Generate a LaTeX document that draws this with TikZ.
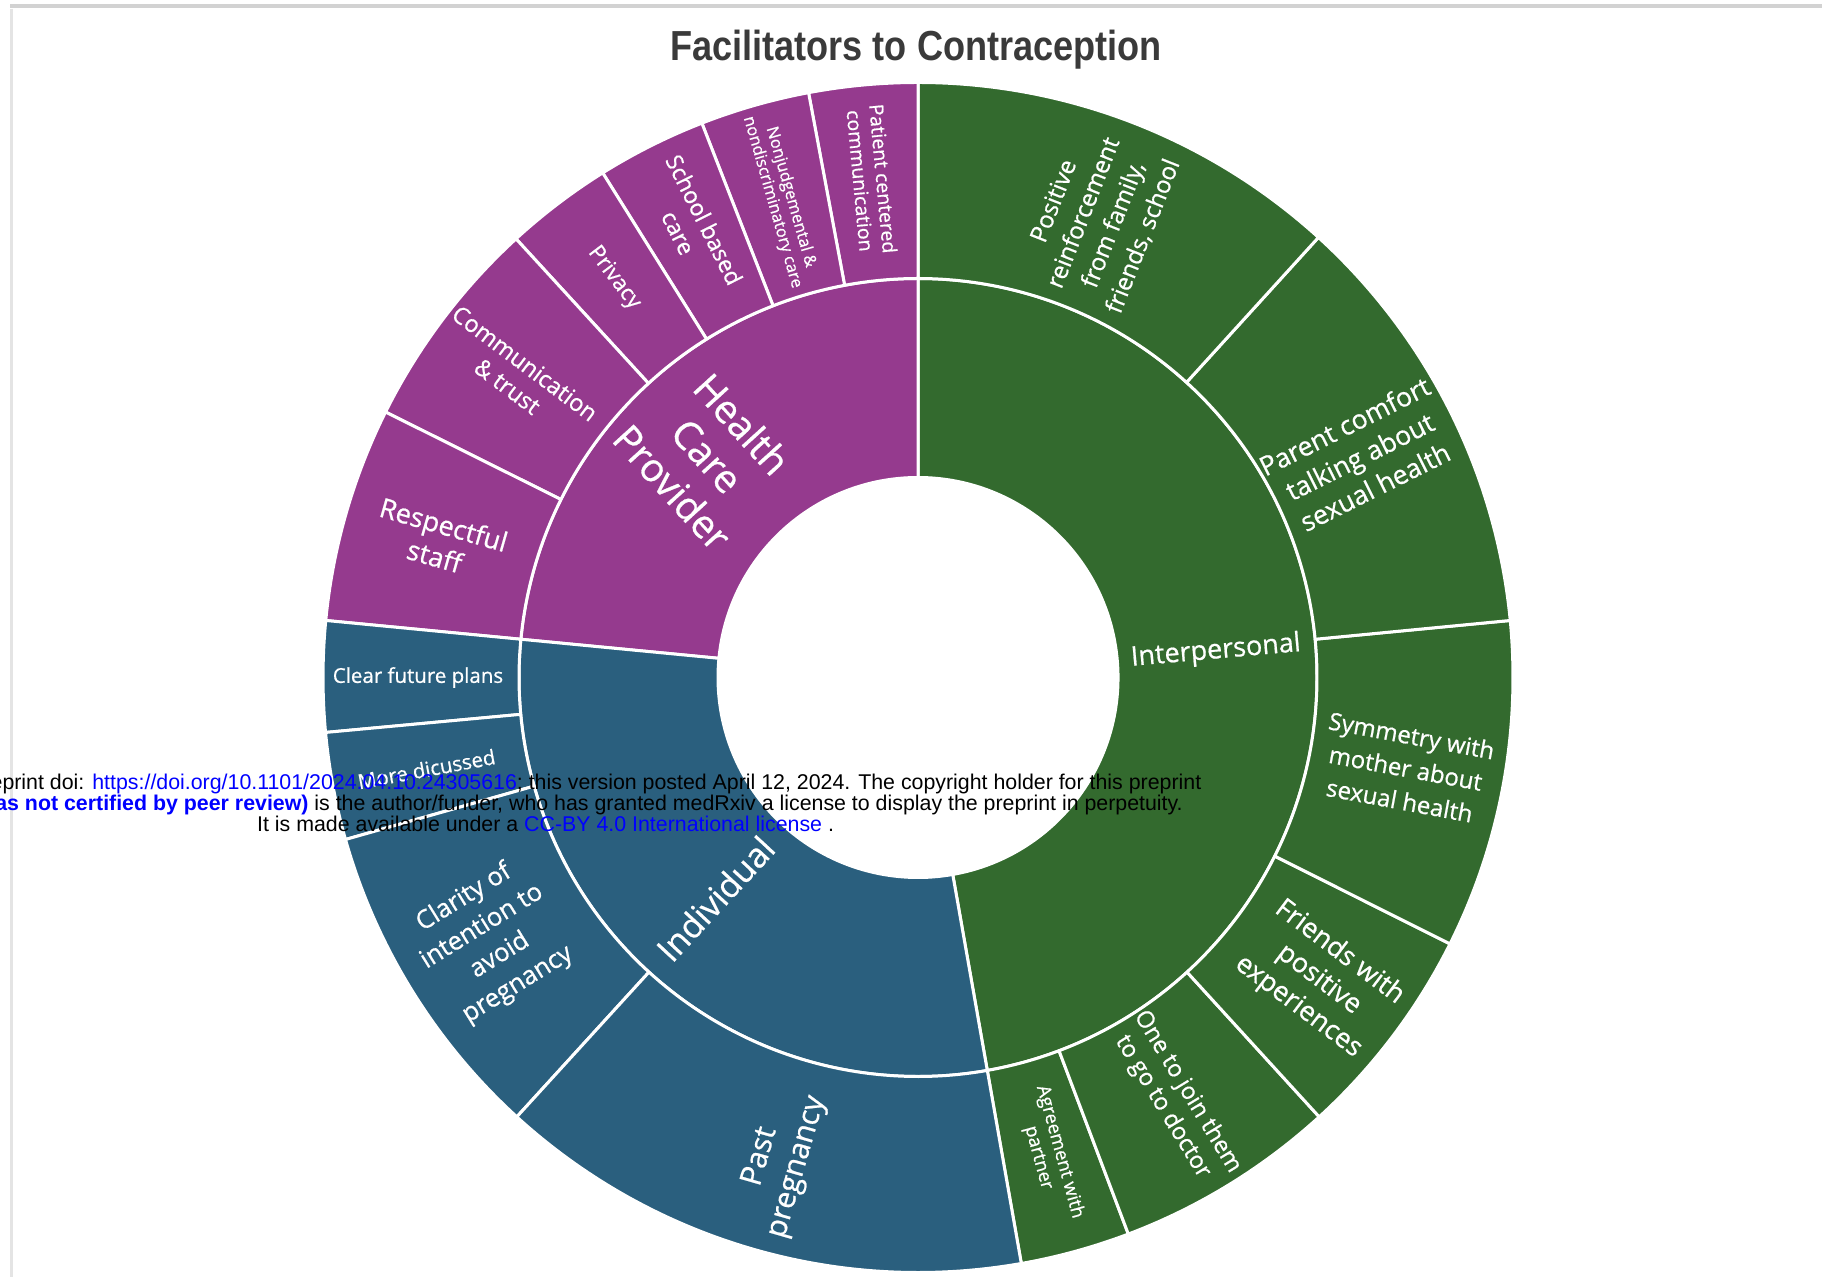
\documentclass[tikz,border=0pt]{standalone}
\usepackage{fontspec}
\setmainfont{Open Sans}[FakeBold=0.7]
\newfontfamily\arialf{Liberation Sans}
\usepackage{graphicx}
\definecolor{hcp}{HTML}{953A8E}
\definecolor{ipc}{HTML}{336A2E}
\definecolor{ind}{HTML}{2A5F7E}
\definecolor{ttl}{HTML}{3A3A3A}
\definecolor{lnk}{HTML}{0000FF}
\definecolor{framegray}{HTML}{D2D2D2}
\newcommand\fs[2]{\fontsize{#1}{#2}\selectfont}
\newcommand\seg[5]{\filldraw[fill=#5,draw=white,line width=3pt,line join=round]
  (#1:#3pt) arc[start angle=#1,end angle=#2,radius=#3pt] -- (#2:#4pt)
  arc[start angle=#2,end angle=#1,radius=#4pt] -- cycle;}
\tikzset{lab/.style={text=white,align=center,inner sep=0pt}}
\begin{document}
\begin{tikzpicture}[x=1pt,y=1pt]
\useasboundingbox (0,0) rectangle (1822,1277);
\fill[white] (0,0) rectangle (1822,1277);
\clip (0,0) rectangle (1822,1277);
% frame lines
\draw[framegray,line width=4pt] (10,1271) -- (1822,1271);
\draw[framegray!60,line width=3pt] (11,1268) -- (11,0);
% title
\node[anchor=base,inner sep=0pt] (title) at (916,1216.6)
  {\arialf\bfseries\color{ttl}\scalebox{0.86}[1]{\fs{42}{46}Facilitators to Contraception}};
\begin{scope}[shift={(918,599.5)}]
% inner ring
\seg{-80}{90}{200}{399}{ipc}
\seg{90}{174.5}{200}{399}{hcp}
\seg{174.5}{280}{200}{399}{ind}
% outer ring: interpersonal
\seg{-80}{-69.3}{399}{595}{ipc}
\seg{-69.3}{-47.6}{399}{595}{ipc}
\seg{-47.6}{-26.6}{399}{595}{ipc}
\seg{-26.6}{5.5}{399}{595}{ipc}
\seg{5.5}{47.7}{399}{595}{ipc}
\seg{47.7}{90}{399}{595}{ipc}
% outer ring: health care provider
\seg{90}{100.6}{399}{595}{hcp}
\seg{100.6}{111.3}{399}{595}{hcp}
\seg{111.3}{122}{399}{595}{hcp}
\seg{122}{132.5}{399}{595}{hcp}
\seg{132.5}{153.5}{399}{595}{hcp}
\seg{153.5}{174.5}{399}{595}{hcp}
% outer ring: individual
\seg{174.5}{185.3}{399}{595}{ind}
\seg{185.3}{195.8}{399}{595}{ind}
\seg{195.8}{227.6}{399}{595}{ind}
\seg{227.6}{280}{399}{595}{ind}
% inner labels
\node[lab,rotate=5,font=\fs{27}{32}] (interp) at (5:299) {Interpersonal};
\node[lab,rotate=-47.75,font=\fs{39}{47}] (hcpl) at (133.5:306) {Health\\Care\\Provider};
\node[lab,rotate=47.25,font=\fs{34}{40}] (indl) at (227.5:300) {Individual};
% outer labels
\node[lab,rotate=-74.65,font=\fs{18.5}{22}] (agree) at (-74.65:495) {Agreement with\\partner};
\node[lab,rotate=-58.65,font=\fs{23.5}{29}] (join) at (-58.65:494) {One to join them\\to go to doctor};
\node[lab,rotate=-37,font=\fs{27}{34}] (friends) at (-37:502) {Friends with\\positive\\experiences};
\node[lab,rotate=-10.5,font=\fs{24}{33}] (symm) at (-10.5:496) {Symmetry with\\mother about\\sexual health};
\node[lab,rotate=26.6,font=\fs{26.5}{34}] (parent) at (26.6:494) {Parent comfort\\talking about\\sexual health};
\node[lab,rotate=68.5,font=\fs{24}{32}] (posre) at (68.5:493) {Positive\\reinforcement\\from family,\\friends, school};
\node[lab,rotate=-84.7,font=\fs{19.5}{23}] (patient) at (95.3:500) {Patient centered\\communication};
\node[lab,rotate=-74.05,font=\fs{16.5}{19}] (nonjud) at (105.95:497) {Nonjudgemental \&\\nondiscriminatory care};
\node[lab,rotate=-63.35,font=\fs{23}{29}] (school) at (116.65:505) {School based\\care};
\node[lab,rotate=-52.75,font=\fs{22}{26}] (privacy) at (127.25:502) {Privacy};
\node[lab,rotate=-37,font=\fs{23.5}{29}] (comm) at (143:503) {Communication\\\& trust};
\node[lab,rotate=-16,font=\fs{27}{33}] (respect) at (164:498) {Respectful\\staff};
\node[lab,rotate=0,font=\fs{20.5}{24}] (clear) at (180:500) {Clear future plans};
\node[lab,rotate=10.55,font=\fs{20.5}{24}] (more) at (190.55:500) {More dicussed};
\node[lab,rotate=31.7,font=\fs{25.5}{34}] (clarity) at (211.7:502) {Clarity of\\intention to\\avoid\\pregnancy};
\node[lab,rotate=74,font=\fs{30}{38}] (past) at (254:504) {Past\\pregnancy};
\end{scope}
% preprint stamp
\node[anchor=mid east,inner sep=0pt,font=\arialf\fs{21.35}{21}] (stamp1) at (1201.5,490.3)
  {medRxiv preprint doi: \textcolor{lnk}{https://doi.org/10.1101/2024.04.10.24305616}; this version posted April 12, 2024. The copyright holder for this preprint};
\node[anchor=mid east,inner sep=0pt,font=\arialf\fs{21.35}{21}] (stamp2) at (1183,469.4)
  {\textcolor{lnk}{\bfseries (which was not certified by peer review)} is the author/funder, who has granted medRxiv a license to display the preprint in perpetuity.};
\node[anchor=mid west,inner sep=0pt,font=\arialf\fs{21.35}{21}] (stamp3) at (257,448.5)
  {It is made available under a \textcolor{lnk}{CC-BY 4.0 International license} .};
\end{tikzpicture}
\end{document}
